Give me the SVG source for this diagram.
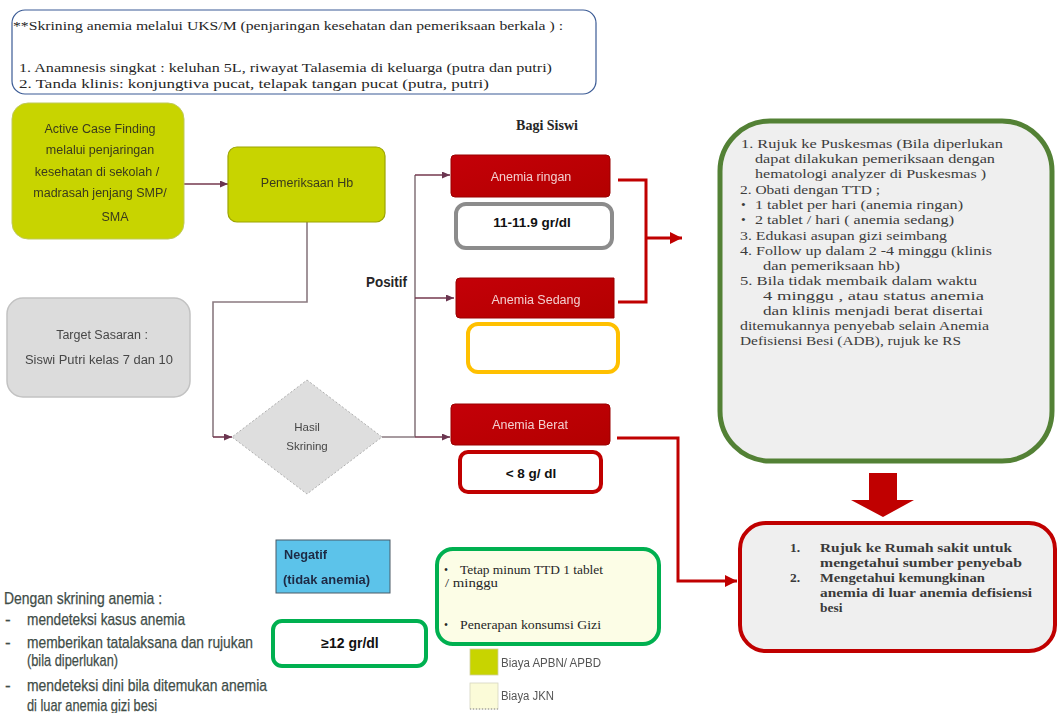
<svg xmlns="http://www.w3.org/2000/svg" width="1057" height="713" viewBox="0 0 1057 713">
  <style>
    .serif { font-family: "Liberation Serif", "DejaVu Serif", serif; }
    .sans { font-family: "Liberation Sans", Arial, sans-serif; }
    .note { font-size: 12.5px; fill: #262626; }
    .green-txt { font-size: 13.5px; fill: #3c3c3c; }
    .rs-txt { font-size: 13.5px; font-weight: bold; fill: #3a3a3a; }
    .box-txt { font-size: 12.5px; fill: #3a3a1c; text-anchor: middle; }
    .gray-txt { font-size: 12.5px; fill: #474747; text-anchor: middle; }
    .red-txt { font-size: 12.5px; fill: #f3cfcf; text-anchor: middle; }
    .range-txt { font-size: 13.5px; font-weight: bold; fill: #111; text-anchor: middle; }
    .ttd-txt { font-size: 11.5px; fill: #262626; }
    .legend-txt { font-size: 12.5px; fill: #555; }
    .info-txt { font-size: 17px; fill: #3f4d48; stroke: #3f4d48; stroke-width: 0.25; }
    .flow { fill: none; stroke: #8a7a80; stroke-width: 1.6; }
    .flow-dark { fill: none; stroke: #74384e; stroke-width: 1.6; }
    .red-line { fill: none; stroke: #c00000; stroke-width: 3; }
    .red-box { fill: url(#redFill); stroke: #9a0000; stroke-width: 1; }
  </style>
  <defs>
    <linearGradient id="redFill" x1="0" y1="0" x2="1" y2="1">
      <stop offset="0" stop-color="#c40008"/>
      <stop offset="1" stop-color="#b30000"/>
    </linearGradient>
    <filter id="soft" x="-5%" y="-20%" width="110%" height="140%">
      <feGaussianBlur stdDeviation="0.6"/>
    </filter>
    <marker id="headDark" viewBox="0 0 8 7" refX="8" refY="3.5" markerWidth="8" markerHeight="7" markerUnits="userSpaceOnUse" orient="auto">
      <path d="M0,0 L8,3.5 L0,7 z" fill="#6b3550"/>
    </marker>
    <marker id="headRed" viewBox="0 0 12 12" refX="12" refY="6" markerWidth="12" markerHeight="12" markerUnits="userSpaceOnUse" orient="auto">
      <path d="M0,0 L12,6 L0,12 z" fill="#c00000"/>
    </marker>
  </defs>

  <rect width="1057" height="713" fill="#ffffff"/>

  <!-- screening note -->
  <g id="note-skrining">
    <rect x="12" y="10" width="584" height="84" rx="13" fill="#ffffff" stroke="#3b5b95" stroke-width="1.2"/>
    <text class="serif note" x="13" y="30" textLength="550" lengthAdjust="spacingAndGlyphs">**Skrining anemia melalui UKS/M (penjaringan kesehatan dan pemeriksaan berkala ) :</text>
    <text class="serif note" x="19" y="72" textLength="533" lengthAdjust="spacingAndGlyphs">1. Anamnesis singkat : keluhan 5L, riwayat Talasemia di keluarga (putra dan putri)</text>
    <text class="serif note" x="19" y="88" textLength="470" lengthAdjust="spacingAndGlyphs">2. Tanda klinis: konjungtiva pucat, telapak tangan pucat (putra, putri)</text>
  </g>

  <!-- connectors -->
  <g id="connectors">
    <line class="flow-dark" x1="184" y1="184" x2="228" y2="184" marker-end="url(#headDark)"/>
    <polyline class="flow" points="307,222 307,302 213,302 213,437"/>
    <line class="flow-dark" x1="213" y1="437" x2="232" y2="437" marker-end="url(#headDark)"/>
    <polyline class="flow" points="382,437 415,437"/>
    <line class="flow" x1="415" y1="175" x2="415" y2="437"/>
    <line class="flow-dark" x1="415" y1="175" x2="450" y2="175" marker-end="url(#headDark)"/>
    <line class="flow-dark" x1="415" y1="298" x2="454" y2="298" marker-end="url(#headDark)"/>
    <line class="flow-dark" x1="415" y1="437" x2="450" y2="437" marker-end="url(#headDark)"/>
    <polyline class="red-line" points="618,180 646,180 646,302 618,302"/>
    <line class="red-line" x1="646" y1="238" x2="682" y2="238" marker-end="url(#headRed)"/>
    <polyline class="red-line" points="617,438 678,438 678,581 737,581" marker-end="url(#headRed)"/>
    <path id="arrow-down" d="M869,473 L897,473 L897,500 L914,500 L883,517 L851,500 L869,500 z" fill="#c00000"/>
  </g>

  <g id="active-case-finding">
    <rect x="12" y="103" width="172" height="136" rx="16" fill="#c8d400" stroke="#bfc95a" stroke-width="1"/>
    <g filter="url(#soft)">
      <text class="sans box-txt" x="100" y="133">Active Case Finding</text>
      <text class="sans box-txt" x="100" y="154">melalui penjaringan</text>
      <text class="sans box-txt" x="97" y="176">kesehatan di sekolah /</text>
      <text class="sans box-txt" x="100" y="197">madrasah jenjang SMP/</text>
      <text class="sans box-txt" x="115" y="221">SMA</text>
    </g>
  </g>

  <g id="pemeriksaan-hb">
    <rect x="228" y="147" width="157" height="75" rx="9" fill="#c8d400" stroke="#9ca400" stroke-width="1.2"/>
    <text class="sans box-txt" x="307" y="187" filter="url(#soft)">Pemeriksaan Hb</text>
  </g>

  <g id="target-sasaran">
    <rect x="7" y="298" width="183" height="99" rx="16" fill="#dcdcdc" stroke="#c2c2c2" stroke-width="1.5"/>
    <g filter="url(#soft)">
      <text class="sans gray-txt" x="102" y="339">Target Sasaran :</text>
      <text class="sans gray-txt" x="99" y="364" textLength="148" lengthAdjust="spacingAndGlyphs">Siswi Putri kelas 7 dan 10</text>
    </g>
  </g>

  <g id="hasil-skrining">
    <polygon points="307,380 382,437 307,494 232,437" fill="#dedede" stroke="#b0b0b0" stroke-width="1" stroke-dasharray="2 2"/>
    <g filter="url(#soft)">
      <text class="sans gray-txt" x="307" y="431" style="font-size:11.5px">Hasil</text>
      <text class="sans gray-txt" x="307" y="450" style="font-size:11.5px">Skrining</text>
    </g>
  </g>

  <g id="label-positif">
    <text class="sans" x="366" y="287" font-size="14.5" font-weight="bold" fill="#262626" textLength="41" lengthAdjust="spacingAndGlyphs">Positif</text>
  </g>

  <g id="label-bagi-siswi">
    <text class="serif" x="547" y="130" font-size="14" font-weight="bold" fill="#262626" text-anchor="middle">Bagi Siswi</text>
  </g>

  <g id="anemia-ringan">
    <rect class="red-box" x="451" y="155" width="159" height="42" rx="4"/>
    <text class="sans red-txt" x="531" y="181" filter="url(#soft)">Anemia ringan</text>
  </g>
  <g id="range-ringan">
    <rect x="456" y="204" width="156" height="44" rx="10" fill="#ffffff" stroke="#8c8c8c" stroke-width="4"/>
    <text class="sans range-txt" x="532" y="227">11-11.9 gr/dl</text>
  </g>

  <g id="anemia-sedang">
    <path d="M460,278 L614,278 L614,318 L460,318 Q456,318 456,314 L456,282 Q456,278 460,278 z" fill="url(#redFill)" stroke="#9a0000" stroke-width="1"/>
    <text class="sans red-txt" x="536" y="304" filter="url(#soft)">Anemia Sedang</text>
  </g>
  <g id="range-sedang">
    <rect x="468" y="324" width="150" height="48" rx="10" fill="#ffffff" stroke="#ffc000" stroke-width="4"/>
  </g>

  <g id="anemia-berat">
    <rect class="red-box" x="451" y="404" width="159" height="41" rx="4"/>
    <text class="sans red-txt" x="530" y="429" filter="url(#soft)">Anemia Berat</text>
  </g>
  <g id="range-berat">
    <rect x="460" y="452" width="141" height="40" rx="8" fill="#ffffff" stroke="#c00000" stroke-width="4"/>
    <text class="sans range-txt" x="531" y="478">&lt; 8 g/ dl</text>
  </g>

  <g id="tatalaksana-puskesmas">
    <rect x="720" y="121" width="332" height="340" rx="50" fill="#efefef" stroke="#538135" stroke-width="5"/>
    <text class="serif green-txt" x="741" y="148" textLength="262" lengthAdjust="spacingAndGlyphs">1. Rujuk ke Puskesmas  (Bila  diperlukan</text>
    <text class="serif green-txt" x="755" y="163" textLength="240" lengthAdjust="spacingAndGlyphs">dapat dilakukan  pemeriksaan dengan</text>
    <text class="serif green-txt" x="755" y="178" textLength="231" lengthAdjust="spacingAndGlyphs">hematologi  analyzer di Puskesmas )</text>
    <text class="serif green-txt" x="740" y="194" textLength="140" lengthAdjust="spacingAndGlyphs">2. Obati dengan TTD ;</text>
    <text class="serif green-txt" x="741" y="209">•</text>
    <text class="serif green-txt" x="755" y="209" textLength="208" lengthAdjust="spacingAndGlyphs">1 tablet per hari (anemia ringan)</text>
    <text class="serif green-txt" x="741" y="224">•</text>
    <text class="serif green-txt" x="755" y="224" textLength="199" lengthAdjust="spacingAndGlyphs">2  tablet  /  hari  (  anemia  sedang)</text>
    <text class="serif green-txt" x="740" y="240" textLength="207" lengthAdjust="spacingAndGlyphs">3. Edukasi asupan gizi seimbang</text>
    <text class="serif green-txt" x="740" y="255" textLength="252" lengthAdjust="spacingAndGlyphs">4. Follow up dalam 2 -4 minggu  (klinis</text>
    <text class="serif green-txt" x="763" y="270" textLength="137" lengthAdjust="spacingAndGlyphs">dan pemeriksaan hb)</text>
    <text class="serif green-txt" x="740" y="285" textLength="237" lengthAdjust="spacingAndGlyphs">5. Bila tidak membaik dalam  waktu</text>
    <text class="serif green-txt" x="763" y="300" textLength="221" lengthAdjust="spacingAndGlyphs">4  minggu  ,  atau  status  anemia</text>
    <text class="serif green-txt" x="763" y="315" textLength="220" lengthAdjust="spacingAndGlyphs">dan klinis  menjadi berat disertai</text>
    <text class="serif green-txt" x="740" y="330" textLength="249" lengthAdjust="spacingAndGlyphs">ditemukannya penyebab selain  Anemia</text>
    <text class="serif green-txt" x="740" y="345" textLength="221" lengthAdjust="spacingAndGlyphs">Defisiensi Besi (ADB),  rujuk ke RS</text>
  </g>

  <g id="rujuk-rumah-sakit">
    <rect x="740" y="523" width="315" height="128" rx="26" fill="#efefef" stroke="#c00000" stroke-width="4"/>
    <text class="serif rs-txt" x="790" y="552">1.</text>
    <text class="serif rs-txt" x="820" y="552" textLength="192" lengthAdjust="spacingAndGlyphs">Rujuk ke Rumah sakit   untuk</text>
    <text class="serif rs-txt" x="820" y="567" textLength="202" lengthAdjust="spacingAndGlyphs">mengetahui  sumber   penyebab</text>
    <text class="serif rs-txt" x="790" y="582">2.</text>
    <text class="serif rs-txt" x="820" y="582" textLength="165" lengthAdjust="spacingAndGlyphs">Mengetahui kemungkinan</text>
    <text class="serif rs-txt" x="820" y="597" textLength="212" lengthAdjust="spacingAndGlyphs">anemia di luar anemia   defisiensi</text>
    <text class="serif rs-txt" x="820" y="612">besi</text>
  </g>

  <g id="negatif">
    <rect x="276" y="540" width="114" height="53" fill="#5cc3ea" stroke="#4a5a66" stroke-width="1"/>
    <g filter="url(#soft)">
      <text class="sans" x="284" y="559" font-size="12.5" font-weight="bold" fill="#1f2a44" textLength="43" lengthAdjust="spacingAndGlyphs">Negatif</text>
      <text class="sans" x="283" y="584" font-size="12.5" font-weight="bold" fill="#1f2a44" textLength="87" lengthAdjust="spacingAndGlyphs">(tidak anemia)</text>
    </g>
  </g>
  <g id="range-normal">
    <rect x="273" y="621" width="153" height="45" rx="9" fill="#ffffff" stroke="#00b050" stroke-width="4"/>
    <text class="sans range-txt" x="350" y="648" style="font-size:14px">≥12 gr/dl</text>
  </g>

  <g id="tatalaksana-negatif">
    <rect x="437" y="549" width="222" height="95" rx="16" fill="#fcfde6" stroke="#00b050" stroke-width="4"/>
    <text class="serif ttd-txt" x="444" y="574">•</text>
    <text class="serif ttd-txt" x="460" y="574" textLength="143" lengthAdjust="spacingAndGlyphs">Tetap minum TTD 1 tablet</text>
    <text class="serif ttd-txt" x="445" y="587" textLength="53" lengthAdjust="spacingAndGlyphs">/ minggu</text>
    <text class="serif ttd-txt" x="444" y="629">•</text>
    <text class="serif ttd-txt" x="460" y="629" textLength="141" lengthAdjust="spacingAndGlyphs">Penerapan konsumsi Gizi</text>
  </g>

  <g id="legend">
    <rect x="470" y="649" width="28" height="26" fill="#c8d400" stroke="#d0d0a0" stroke-width="0.8"/>
    <text class="sans legend-txt" x="501" y="667" textLength="100" lengthAdjust="spacingAndGlyphs" filter="url(#soft)">Biaya APBN/ APBD</text>
    <rect x="470" y="683" width="28" height="26" fill="#fbfbd8" stroke="#d6d6c0" stroke-width="0.8"/>
    <line x1="470" y1="709" x2="498" y2="709" stroke="#888" stroke-width="1" stroke-dasharray="1 2"/>
    <text class="sans legend-txt" x="501" y="700" textLength="53" lengthAdjust="spacingAndGlyphs" filter="url(#soft)">Biaya JKN</text>
  </g>

  <g id="manfaat-skrining">
    <text class="sans info-txt" x="4" y="604" textLength="158" lengthAdjust="spacingAndGlyphs">Dengan skrining anemia :</text>
    <text class="sans info-txt" x="5" y="625">-</text>
    <text class="sans info-txt" x="27" y="625" textLength="158" lengthAdjust="spacingAndGlyphs">mendeteksi kasus anemia</text>
    <text class="sans info-txt" x="5" y="648">-</text>
    <text class="sans info-txt" x="27" y="648" textLength="226" lengthAdjust="spacingAndGlyphs">memberikan tatalaksana dan rujukan</text>
    <text class="sans info-txt" x="27" y="666" textLength="91" lengthAdjust="spacingAndGlyphs">(bila diperlukan)</text>
    <text class="sans info-txt" x="5" y="691">-</text>
    <text class="sans info-txt" x="27" y="691" textLength="240" lengthAdjust="spacingAndGlyphs">mendeteksi dini bila ditemukan anemia</text>
    <text class="sans info-txt" x="27" y="711" textLength="130" lengthAdjust="spacingAndGlyphs">di luar anemia gizi besi</text>
  </g>
</svg>
